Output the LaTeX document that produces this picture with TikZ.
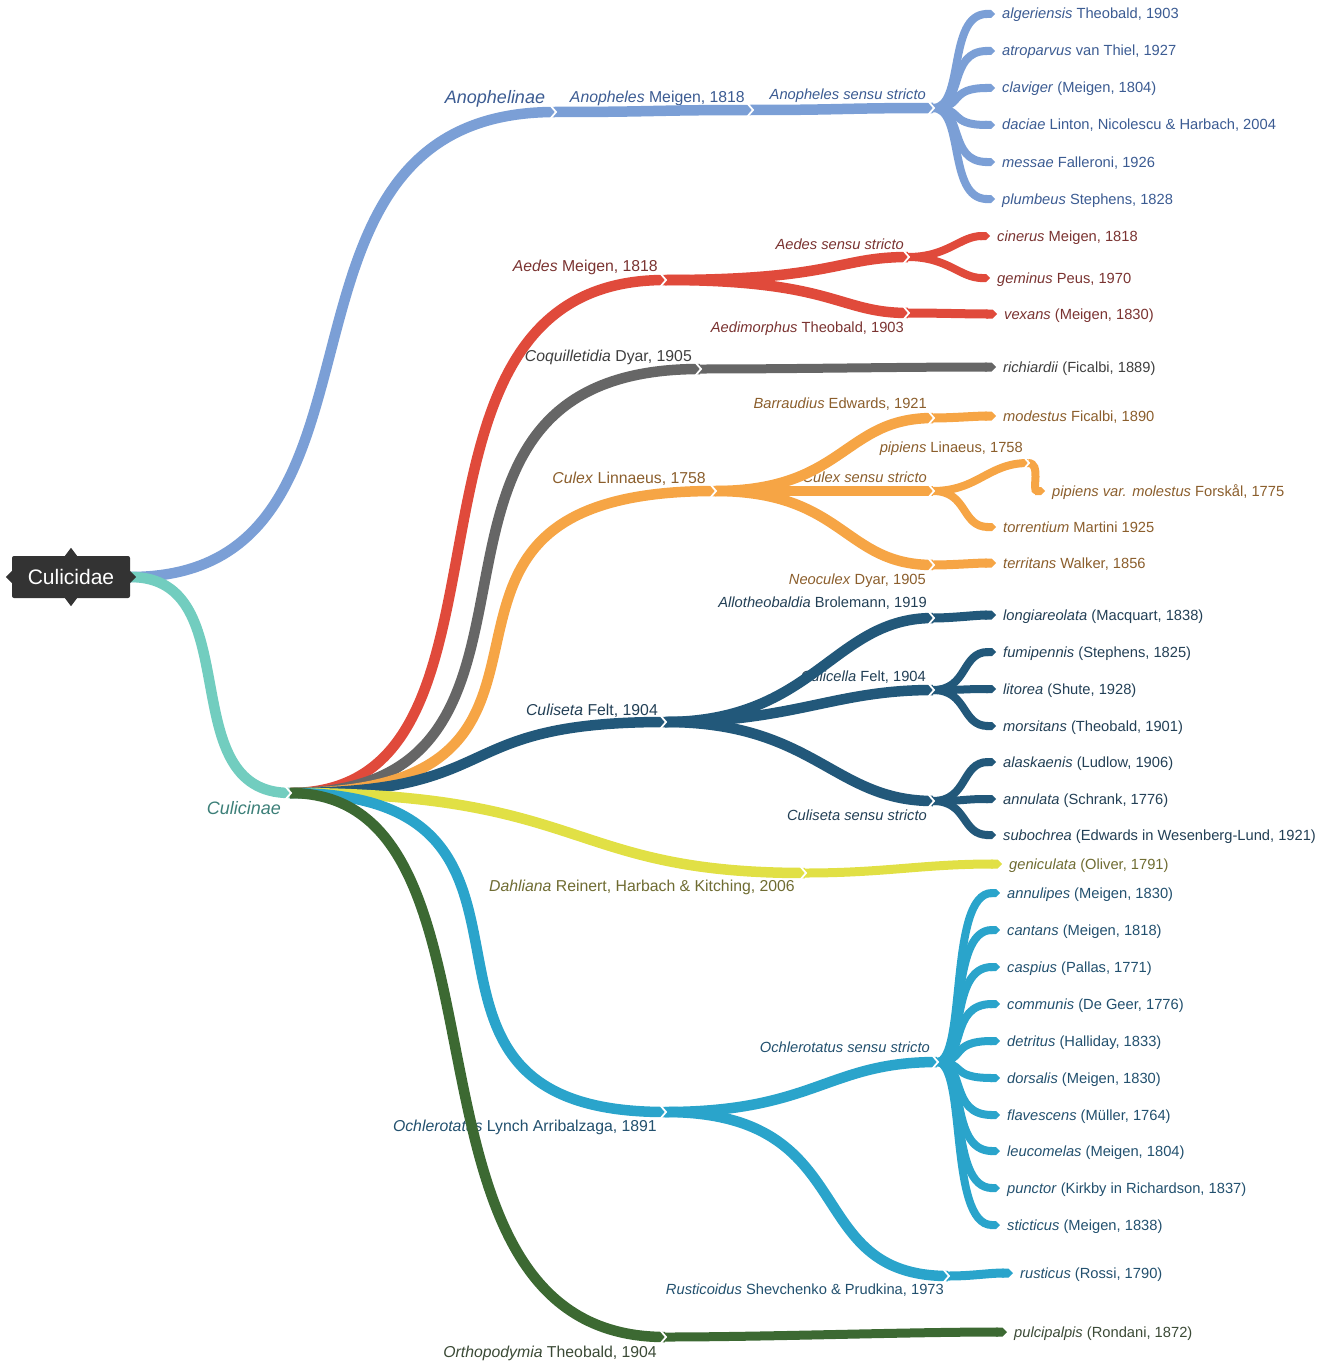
\documentclass[tikz,border=0pt]{standalone}
\usepackage{fontspec}
\setmainfont{Liberation Sans}
\usetikzlibrary{arrows.meta}
\definecolor{anL}{HTML}{7B9FD6}\definecolor{anT}{HTML}{3B5B92}
\definecolor{cuL}{HTML}{72CDBF}\definecolor{cuT}{HTML}{3C7F78}
\definecolor{aeL}{HTML}{E04A3B}\definecolor{aeT}{HTML}{7A3331}
\definecolor{coL}{HTML}{666666}\definecolor{coT}{HTML}{3F3F3F}
\definecolor{cxL}{HTML}{F6A545}\definecolor{cxT}{HTML}{8B5E2C}
\definecolor{csL}{HTML}{22587A}\definecolor{csT}{HTML}{223F55}
\definecolor{daL}{HTML}{E1E045}\definecolor{daT}{HTML}{6F6C32}
\definecolor{ocL}{HTML}{2AA4CB}\definecolor{ocT}{HTML}{22506E}
\definecolor{orL}{HTML}{3C6932}\definecolor{orT}{HTML}{3B4A36}
\definecolor{rootc}{HTML}{333333}
\newcommand\br[5]{\draw[#1] (#2) .. controls +(#4,0) and +(-#5,0) .. (#3);}
\newcommand\lb[5]{\draw[#1] (#2) .. controls +(#4,0) and +(-#5,0) .. ([xshift=-7pt,yshift=5pt]#3.base west);}
\tikzset{
  lbl/.style={inner sep=0pt, anchor=base east, yshift=-5.2pt, font=\fontsize{14.7}{18}\selectfont},
  gen/.style={inner sep=0pt, anchor=base east, yshift=-5.6pt, font=\fontsize{15.8}{18}\selectfont},
  top/.style={inner sep=0pt, anchor=base, yshift=-6.5pt, font=\fontsize{18}{21}\selectfont\itshape},
  lf/.style={inner sep=0pt, anchor=base west, yshift=-5pt, font=\fontsize{14.7}{17}\selectfont},
  big/.style={line width=10.5pt},
  tw/.style={line width=8pt,-{Triangle Cap}},
  tw9/.style={line width=9pt,-{Triangle Cap}},
  chev/.pic={\draw[white,line width=1.8pt,line join=miter] (-5,-7) -- (1,0) -- (-5,7);}
}
\begin{document}
\begin{tikzpicture}[x=1pt,y=-1pt]
\useasboundingbox (0,0) rectangle (1329,1362);
% root
\node[fill=rootc, text=white, minimum width=118pt, minimum height=42pt, rounded corners=2pt, font=\fontsize{21}{24}\selectfont, inner sep=0pt] (root) at (71,577) {Culicidae};
% junctions
\coordinate (jAn) at (555,112);
\coordinate (jAnM) at (752,110);
\coordinate (jAnSS) at (933,108);
\coordinate (jCul) at (290,793);
\coordinate (jAe) at (665,280);
\coordinate (jAeSS) at (908,257);
\coordinate (jAeAm) at (908,313);
\coordinate (jCoq) at (700,369);
\coordinate (jCx) at (715,491);
\coordinate (jBar) at (933,418);
\coordinate (jCxSS) at (933,491);
\coordinate (jNeo) at (933,565);
\coordinate (jPip) at (1028,463);
\coordinate (jCs) at (665,722);
\coordinate (jAllo) at (933,618);
\coordinate (jCulic) at (933,690);
\coordinate (jCsSS) at (933,801);
\coordinate (jDah) at (805,873);
\coordinate (jOch) at (665,1112);
\coordinate (jOchSS) at (937,1062);
\coordinate (jRus) at (948,1276);
\coordinate (jOrt) at (665,1337);
% intermediate labels
\node[top, text=anT] (lAn) at (495,97) {Anophelinae};
\node[top, text=cuT] (lCu) at (244,808) {Culicinae};
\node[gen, text=anT] (lAnM) at (745,97) {\textit{Anopheles} Meigen, 1818};
\node[lbl, text=anT] (lAnSS) at (926,94) {\textit{Anopheles sensu stricto}};
\node[gen, text=aeT] (lAe) at (658,266) {\textit{Aedes} Meigen, 1818};
\node[lbl, text=aeT] (lAeSS) at (904,244) {\textit{Aedes sensu stricto}};
\node[lbl, text=aeT] (lAeAm) at (904,327) {\textit{Aedimorphus} Theobald, 1903};
\node[gen, text=coT] (lCoq) at (692,356) {\textit{Coquilletidia} Dyar, 1905};
\node[lbl, text=cxT] (lBar) at (927,403) {\textit{Barraudius} Edwards, 1921};
\node[lbl, text=cxT] (lPip) at (1023,447) {\textit{pipiens} Linaeus, 1758};
\node[gen, text=cxT] (lCx) at (706,478) {\textit{Culex} Linnaeus, 1758};
\node[lbl, text=cxT] (lCxSS) at (927,477) {\textit{Culex sensu stricto}};
\node[lbl, text=cxT] (lNeo) at (926,579) {\textit{Neoculex} Dyar, 1905};
\node[lbl, text=csT] (lAllo) at (927,602) {\textit{Allotheobaldia} Brolemann, 1919};
\node[lbl, text=csT] (lCulic) at (926,676) {\textit{Culicella} Felt, 1904};
\node[gen, text=csT] (lCs) at (658,710) {\textit{Culiseta} Felt, 1904};
\node[lbl, text=csT] (lCsSS) at (927,815) {\textit{Culiseta sensu stricto}};
\node[gen, text=daT] (lDah) at (795,886) {\textit{Dahliana} Reinert, Harbach \& Kitching, 2006};
\node[lbl, text=ocT] (lOchSS) at (930,1047) {\textit{Ochlerotatus sensu stricto}};
\node[gen, text=ocT] (lOch) at (657,1126) {\textit{Ochlerotatus} Lynch Arribalzaga, 1891};
\node[lbl, text=ocT] (lRus) at (944,1289) {\textit{Rusticoidus} Shevchenko \& Prudkina, 1973};
\node[gen, text=orT] (lOrt) at (657,1352) {\textit{Orthopodymia} Theobald, 1904};
% leaves
\node[lf, text=anT] (al) at (1002,14) {\textit{algeriensis} Theobald, 1903};
\node[lf, text=anT] (at) at (1002,51) {\textit{atroparvus} van Thiel, 1927};
\node[lf, text=anT] (cl) at (1002,88) {\textit{claviger} (Meigen, 1804)};
\node[lf, text=anT] (da) at (1002,125) {\textit{daciae} Linton, Nicolescu \& Harbach, 2004};
\node[lf, text=anT] (me) at (1002,162) {\textit{messae} Falleroni, 1926};
\node[lf, text=anT] (pl) at (1002,199) {\textit{plumbeus} Stephens, 1828};
\node[lf, text=aeT] (ci) at (997,236) {\textit{cinerus} Meigen, 1818};
\node[lf, text=aeT] (ge) at (997,278) {\textit{geminus} Peus, 1970};
\node[lf, text=aeT] (ve) at (1004,314) {\textit{vexans} (Meigen, 1830)};
\node[lf, text=coT] (ri) at (1003,367) {\textit{richiardii} (Ficalbi, 1889)};
\node[lf, text=cxT] (mo) at (1003,416) {\textit{modestus} Ficalbi, 1890};
\node[lf, text=cxT] (pm) at (1052,491) {\textit{pipiens var. molestus} Forskål, 1775};
\node[lf, text=cxT] (to) at (1003,527) {\textit{torrentium} Martini 1925};
\node[lf, text=cxT] (te) at (1003,563) {\textit{territans} Walker, 1856};
\node[lf, text=csT] (lo) at (1003,615) {\textit{longiareolata} (Macquart, 1838)};
\node[lf, text=csT] (fu) at (1003,652) {\textit{fumipennis} (Stephens, 1825)};
\node[lf, text=csT] (li) at (1003,689) {\textit{litorea} (Shute, 1928)};
\node[lf, text=csT] (mr) at (1003,726) {\textit{morsitans} (Theobald, 1901)};
\node[lf, text=csT] (ala) at (1003,762) {\textit{alaskaenis} (Ludlow, 1906)};
\node[lf, text=csT] (ann) at (1003,799) {\textit{annulata} (Schrank, 1776)};
\node[lf, text=csT] (su) at (1003,835) {\textit{subochrea} (Edwards in Wesenberg-Lund, 1921)};
\node[lf, text=daT] (gn) at (1009,864) {\textit{geniculata} (Oliver, 1791)};
\node[lf, text=ocT] (o1) at (1007,893) {\textit{annulipes} (Meigen, 1830)};
\node[lf, text=ocT] (o2) at (1007,930) {\textit{cantans} (Meigen, 1818)};
\node[lf, text=ocT] (o3) at (1007,967) {\textit{caspius} (Pallas, 1771)};
\node[lf, text=ocT] (o4) at (1007,1004) {\textit{communis} (De Geer, 1776)};
\node[lf, text=ocT] (o5) at (1007,1041) {\textit{detritus} (Halliday, 1833)};
\node[lf, text=ocT] (o6) at (1007,1078) {\textit{dorsalis} (Meigen, 1830)};
\node[lf, text=ocT] (o7) at (1007,1115) {\textit{flavescens} (Müller, 1764)};
\node[lf, text=ocT] (o8) at (1007,1151) {\textit{leucomelas} (Meigen, 1804)};
\node[lf, text=ocT] (o9) at (1007,1188) {\textit{punctor} (Kirkby in Richardson, 1837)};
\node[lf, text=ocT] (o10) at (1007,1225) {\textit{sticticus} (Meigen, 1838)};
\node[lf, text=ocT] (ru) at (1020,1273) {\textit{rusticus} (Rossi, 1790)};
\node[lf, text=orT] (pu) at (1014,1332) {\textit{pulcipalpis} (Rondani, 1872)};
% Anophelinae
\br{anL,big}{root.east}{jAn}{290}{317}
\br{anL,big}{jAn}{jAnM}{100}{100}
\br{anL,big}{jAnM}{jAnSS}{90}{90}
\foreach \n in {al,at,cl,da,me,pl}{\lb{anL,tw}{jAnSS}{\n}{32}{48}}
% Culicinae
\br{cuL,big}{root.east}{jCul}{120}{120}
% Aedes
\br{aeL,big}{jCul}{jAe}{257}{302}
\br{aeL,big}{jAe}{jAeSS}{170}{70}
\br{aeL,big}{jAe}{jAeAm}{170}{70}
\lb{aeL,tw}{jAeSS}{ci}{40}{30}
\lb{aeL,tw}{jAeSS}{ge}{40}{30}
\lb{aeL,tw9}{jAeAm}{ve}{30}{30}
% Coquilletidia
\br{coL,big}{jCul}{jCoq}{315}{342}
\lb{coL,tw9}{jCoq}{ri}{100}{100}
% Culex
\br{cxL,big}{jCul}{jCx}{350}{365}
\br{cxL,big}{jCx}{jBar}{130}{90}
\br{cxL,big}{jCx}{jCxSS}{60}{60}
\br{cxL,big}{jCx}{jNeo}{130}{90}
\lb{cxL,tw9}{jBar}{mo}{20}{20}
\br{cxL,line width=8pt}{jCxSS}{jPip}{45}{40}
\lb{cxL,tw}{jPip}{pm}{14}{14}
\lb{cxL,tw}{jCxSS}{to}{35}{35}
\lb{cxL,tw9}{jNeo}{te}{20}{20}
% Culiseta
\br{csL,big}{jCul}{jCs}{220}{220}
\br{csL,big}{jCs}{jAllo}{150}{100}
\br{csL,big}{jCs}{jCulic}{130}{100}
\br{csL,big}{jCs}{jCsSS}{150}{100}
\lb{csL,tw9}{jAllo}{lo}{20}{20}
\foreach \n in {fu,li,mr}{\lb{csL,tw}{jCulic}{\n}{35}{35}}
\foreach \n in {ala,ann,su}{\lb{csL,tw}{jCsSS}{\n}{35}{35}}
% Dahliana
\br{daL,big}{jCul}{jDah}{300}{240}
\lb{daL,tw9}{jDah}{gn}{80}{80}
% Ochlerotatus
\br{ocL,big}{jCul}{jOch}{315}{315}
\br{ocL,big}{jOch}{jOchSS}{150}{110}
\br{ocL,big}{jOch}{jRus}{200}{150}
\foreach \n in {o1,o2,o3,o4,o5,o6,o7,o8,o9,o10}{\lb{ocL,tw}{jOchSS}{\n}{30}{52}}
\lb{ocL,tw9}{jRus}{ru}{25}{25}
% Orthopodymia
\br{orL,big}{jCul}{jOrt}{242}{292}
\lb{orL,tw9}{jOrt}{pu}{100}{100}
% chevrons
\foreach \c in {jAn,jAnM,jAnSS,jCul,jAe,jAeSS,jAeAm,jCoq,jCx,jBar,jCxSS,jNeo,jPip,jCs,jAllo,jCulic,jCsSS,jDah,jOch,jOchSS,jRus,jOrt}{\pic at (\c) {chev};}
% root bumps
\fill[rootc] (root.north) ++(-6,0) -- ++(6,-8) -- ++(6,8) -- ++(-6,8) -- cycle;
\fill[rootc] (root.south) ++(-6,0) -- ++(6,-8) -- ++(6,8) -- ++(-6,8) -- cycle;
\fill[rootc] (root.west) ++(0,-6) -- ++(-6,6) -- ++(6,6) -- ++(6,-6) -- cycle;
\fill[rootc] (root.east) ++(0,-6) -- ++(6,6) -- ++(-6,6) -- ++(-6,-6) -- cycle;
\end{tikzpicture}
\end{document}
